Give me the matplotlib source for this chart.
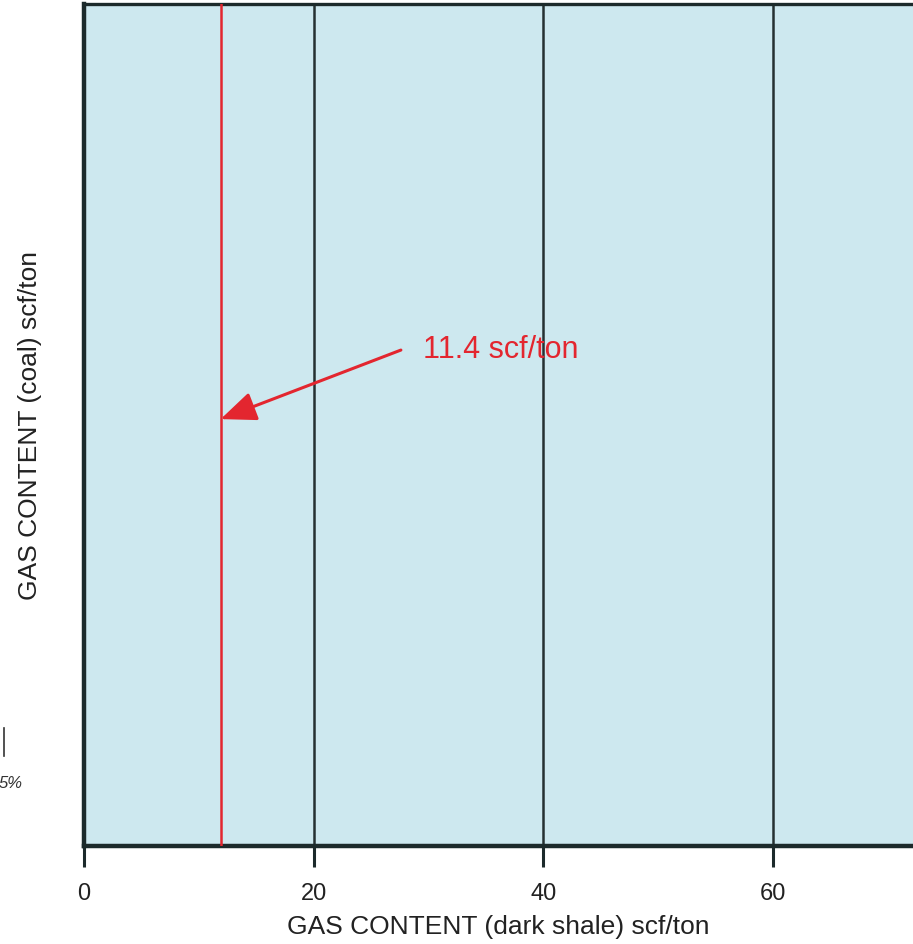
import matplotlib
matplotlib.use("Agg")
import matplotlib.pyplot as plt

plt.rcParams["font.family"] = ["Liberation Sans", "DejaVu Sans"]

# x axis (dark shale gas content, scf/ton)
x_ticks = [0, 20, 40, 60]
x_limits = (0, 72.2)
grid_lines = [20, 40, 60]

# red cut-off line and its callout
cutoff_x = 11.9
cutoff_label = "11.4 scf/ton"
arrow_tip = (cutoff_x, 0.507)
arrow_tail = (27.6, 0.589)

ink = "#1c2a2b"
red = "#e3262f"

fig = plt.figure(figsize=(9.13, 9.45), dpi=100)
fig.patch.set_facecolor("white")
ax = fig.add_axes([84 / 913, 98 / 945, 829 / 913, 842 / 945])
ax.set_facecolor("#cde8ef")

ax.set_xlim(*x_limits)
ax.set_ylim(0, 1)

for gx in grid_lines:
    ax.axvline(gx, color="#253031", linewidth=1.8, zorder=2)

ax.axvline(cutoff_x, color=red, linewidth=1.8, zorder=3)

ax.annotate(
    "",
    xy=arrow_tip,
    xytext=arrow_tail,
    arrowprops=dict(
        arrowstyle="-|>,head_length=1.45,head_width=0.6",
        mutation_scale=15,
        color=red,
        linewidth=2.2,
        shrinkA=0,
        shrinkB=0,
    ),
    zorder=4,
)
ax.text(29.5, 0.590, cutoff_label, color=red, fontsize=22,
        ha="left", va="center", zorder=4)

# spines
ax.spines["right"].set_visible(False)
ax.spines["left"].set_linewidth(3.2)
ax.spines["bottom"].set_linewidth(3.2)
ax.spines["top"].set_linewidth(2.4)
for s in ax.spines.values():
    s.set_color(ink)

ax.set_xticks(x_ticks)
ax.set_xticklabels([str(t) for t in x_ticks])
ax.tick_params(axis="x", direction="out", length=15, width=2.2,
               color=ink, labelsize=17, labelcolor="#222222", pad=11)
ax.set_yticks([])

ax.set_xlabel("GAS CONTENT (dark shale) scf/ton", fontsize=19,
              color="#222222", labelpad=7)
ax.set_ylabel("GAS CONTENT (coal) scf/ton", fontsize=19,
              color="#222222", labelpad=30)

# remnant of the neighbouring panel at the left edge
fig.add_artist(plt.Line2D([4 / 913, 4 / 913], [1 - 757 / 945, 1 - 729 / 945],
                          color="#333333", linewidth=1.2))
fig.text(-1 / 913, 1 - 784 / 945, "5%", fontsize=12, style="italic",
         color="#333333", ha="left", va="center")

fig.savefig("out.png", dpi=100, facecolor="white")
